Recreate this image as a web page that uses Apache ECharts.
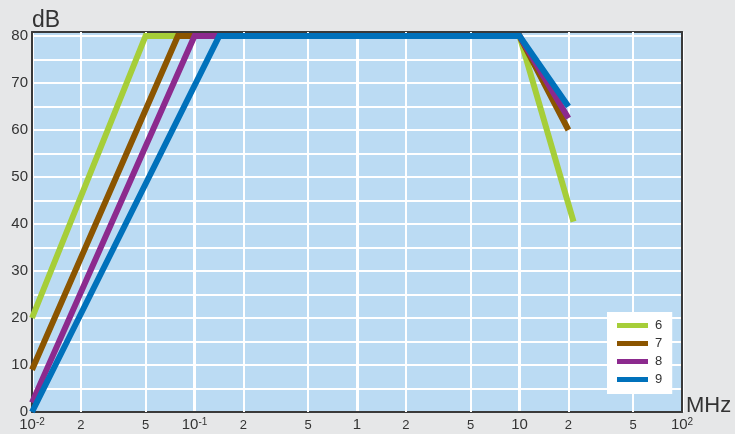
<!DOCTYPE html>
<html>
<head>
<meta charset="utf-8">
<script src="https://cdn.jsdelivr.net/npm/echarts@6/dist/echarts.min.js"></script>
<style>
  html, body { margin: 0; padding: 0; background: #e6e7e8; }
  #chart { width: 735px; height: 434px; }
</style>
</head>
<body>
<div id="chart"></div>
<script>
// Frequency response curves: level (dB) against frequency (MHz, log scale)
const seriesNames = ['6', '7', '8', '9'];
const seriesColors = ['#a6ce39', '#8b5500', '#8c2a8e', '#0071bb'];

// [frequency MHz, level dB]
const curve6 = [[0.01, 20], [0.05, 80], [10, 80], [21.5, 40.5]];
const curve7 = [[0.01, 9], [0.079, 80], [10, 80], [20, 60]];
const curve8 = [[0.01, 2], [0.1, 80], [10, 80], [20, 62.5]];
const curve9 = [[0.01, 0], [0.142, 80], [10, 80], [20, 65]];
const curves = [curve6, curve7, curve8, curve9];

// Frequency axis ticks and their printed labels
const freqTicks = [0.01, 0.02, 0.05, 0.1, 0.2, 0.5, 1, 2, 5, 10, 20, 50, 100];
const freqTickLabels = ['10^-2', '2', '5', '10^-1', '2', '5', '1', '2', '5', '10', '2', '5', '10^2'];
// Intermediate vertical grid lines between the decades
const minorGridFreqs = [0.02, 0.05, 0.2, 0.5, 2, 5, 20, 50];

const FONT = '"Liberation Sans", Arial, sans-serif';
const TEXT = '#333333';
const FRAME = '#3a3a3a';

function freqLabel(value) {
  let best = 0, bestDiff = Infinity;
  freqTicks.forEach((t, i) => {
    const d = Math.abs(Math.log10(t) - Math.log10(value));
    if (d < bestDiff) { bestDiff = d; best = i; }
  });
  const s = freqTickLabels[best];
  if (s.indexOf('^') >= 0) {
    const [b, e] = s.split('^');
    return '{dec|' + b + '}{sup|' + e + '}';
  }
  if (s === '1' || s === '10') return '{dec|' + s + '}';
  return '{minor|' + s + '}';
}

const chart = echarts.init(document.getElementById('chart'), null, { renderer: 'canvas' });

const dataSeries = curves.map((pts, i) => ({
  name: seriesNames[i],
  type: 'line',
  data: pts,
  showSymbol: false,
  symbol: 'none',
  clip: true,
  z: 3,
  lineStyle: { color: seriesColors[i], width: 6, cap: 'butt', join: 'miter' },
  itemStyle: { color: seriesColors[i] },
  animation: false
}));

const gridHelper = {
  type: 'line',
  data: [],
  z: 1,
  silent: true,
  animation: false,
  markLine: {
    z: 1,
    silent: true,
    animation: false,
    symbol: 'none',
    label: { show: false },
    lineStyle: { color: '#ffffff', width: 2, type: 'solid' },
    emphasis: { disabled: true },
    data: minorGridFreqs.map(f => ({ xAxis: f }))
  }
};

chart.setOption({
  backgroundColor: '#e6e7e8',
  animation: false,
  grid: {
    left: 32, right: 53, top: 32, bottom: 22,
    outerBoundsMode: 'none',
    containLabel: false,
    show: true,
    backgroundColor: '#bbdbf3',
    borderWidth: 0
  },
  legend: {
    data: seriesNames,
    orient: 'vertical',
    left: 607, top: 312,
    padding: [7, 10, 8, 10],
    backgroundColor: '#ffffff',
    borderWidth: 0,
    itemGap: 5,
    itemWidth: 31,
    itemHeight: 5,
    icon: 'rect',
    selectedMode: false,
    textStyle: { fontFamily: FONT, fontSize: 13, color: TEXT, padding: [0, 0, 0, 2] }
  },
  xAxis: [{
    type: 'log',
    logBase: 10,
    min: 0.01,
    max: 100,
    name: 'MHz',
    nameLocation: 'end',
    nameGap: 4,
    nameMoveOverlap: false,
    nameTextStyle: {
      fontFamily: FONT, fontSize: 22, color: TEXT,
      align: 'left', verticalAlign: 'bottom', lineHeight: 12
    },
    axisLine: { show: true, lineStyle: { color: FRAME, width: 2 } },
    axisTick: { show: false },
    splitLine: { show: true, lineStyle: { color: '#ffffff', width: 3 } },
    axisLabel: {
      customValues: freqTicks,
      margin: 5,
      color: TEXT,
      fontFamily: FONT,
      formatter: freqLabel,
      rich: {
        dec: { fontFamily: FONT, fontSize: 15, color: TEXT, lineHeight: 16 },
        sup: { fontFamily: FONT, fontSize: 10, color: TEXT, verticalAlign: 'top', lineHeight: 10 },
        minor: { fontFamily: FONT, fontSize: 13, color: TEXT, lineHeight: 16 }
      }
    }
  }, {
    type: 'log',
    logBase: 10,
    min: 0.01,
    max: 100,
    position: 'top',
    axisLine: { show: true, onZero: false, lineStyle: { color: FRAME, width: 2 } },
    axisTick: { show: false },
    axisLabel: { show: false },
    splitLine: { show: false }
  }],
  yAxis: [{
    type: 'value',
    min: 0,
    max: 80.85,
    interval: 5,
    name: 'dB',
    nameLocation: 'end',
    nameGap: 0,
    nameMoveOverlap: false,
    nameTextStyle: { fontFamily: FONT, fontSize: 23, color: TEXT, align: 'left' },
    axisLine: { show: true, lineStyle: { color: FRAME, width: 2 } },
    axisTick: { show: false },
    splitLine: { show: true, lineStyle: { color: '#ffffff', width: 2 } },
    axisLabel: {
      margin: 4,
      color: TEXT,
      fontFamily: FONT,
      fontSize: 15,
      showMaxLabel: false,
      formatter: v => (Math.abs(v % 10) < 1e-9 ? String(v) : '')
    }
  }, {
    type: 'value',
    min: 0,
    max: 80.85,
    position: 'right',
    axisLine: { show: true, onZero: false, lineStyle: { color: FRAME, width: 2 } },
    axisTick: { show: false },
    axisLabel: { show: false },
    splitLine: { show: false }
  }],
  series: [gridHelper].concat(dataSeries)
});
</script>
</body>
</html>
